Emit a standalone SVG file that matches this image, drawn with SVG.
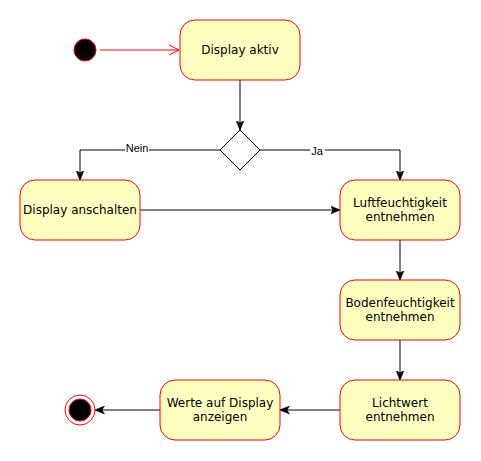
<svg xmlns="http://www.w3.org/2000/svg" width="481" height="461" viewBox="0 0 481 461">
<style>
.n{fill:#ffffc0;stroke:#ff0000;stroke-width:1}
.t{font-family:"DejaVu Sans",Verdana,sans-serif;font-size:12px;fill:#000;text-anchor:middle}
.l{font-family:"Liberation Sans",Arial,sans-serif;font-size:11px;fill:#000;text-anchor:middle}
.c{fill:none;stroke:#000;stroke-width:1}
</style>
<defs>
<marker id="a" viewBox="0 0 10 10" refX="9" refY="5" markerWidth="10" markerHeight="10" markerUnits="userSpaceOnUse" orient="auto">
<path d="M0,1 L10,5 L0,9 L2.5,5 Z" fill="#000" stroke="#000" stroke-width="0.5"/>
</marker>
<marker id="o" viewBox="0 0 12 12" refX="11" refY="6" markerWidth="12" markerHeight="12" markerUnits="userSpaceOnUse" orient="auto">
<path d="M1,1 L11,6 L1,11" fill="none" stroke="#ff0000" stroke-width="1"/>
</marker>
</defs>
<rect width="481" height="461" fill="#fff"/>
<g id="connectors">
<path d="M100,50 H179" stroke="#ff0000" fill="none" marker-end="url(#o)"/>
<path class="c" d="M240,80 V129.5" marker-end="url(#a)"/>
<path class="c" d="M220,150 H80 V179.5" marker-end="url(#a)"/>
<path class="c" d="M260,150 H400 V179.5" marker-end="url(#a)"/>
<path class="c" d="M140,210 H339.5" marker-end="url(#a)"/>
<path class="c" d="M400,240 V279.5" marker-end="url(#a)"/>
<path class="c" d="M400,340 V379.5" marker-end="url(#a)"/>
<path class="c" d="M340,410 H280.5" marker-end="url(#a)"/>
<path class="c" d="M160,410 H95.5" marker-end="url(#a)"/>
<rect x="125" y="143" width="24" height="11" fill="#fff"/>
<text class="l" x="137" y="152">Nein</text>
<rect x="310" y="145" width="15" height="11" fill="#fff"/>
<text class="l" x="317" y="155">Ja</text>
</g>
<g id="start"><circle cx="85" cy="50" r="11" fill="#000" stroke="#ff0000"/></g>
<g id="display-aktiv"><rect class="n" x="180" y="20" width="120" height="60" rx="15"/><text class="t" x="240" y="54">Display aktiv</text></g>
<g id="decision"><path d="M240,130 L260,150 L240,170 L220,150 Z" fill="#fff" stroke="#000"/></g>
<g id="display-anschalten"><rect class="n" x="20" y="180" width="120" height="60" rx="15"/><text class="t" x="80" y="214">Display anschalten</text></g>
<g id="luftfeuchtigkeit"><rect class="n" x="340" y="180" width="120" height="60" rx="15"/><text class="t" x="400" y="207">Luftfeuchtigkeit</text><text class="t" x="400" y="221">entnehmen</text></g>
<g id="bodenfeuchtigkeit"><rect class="n" x="340" y="280" width="120" height="60" rx="15"/><text class="t" x="400" y="307">Bodenfeuchtigkeit</text><text class="t" x="400" y="321">entnehmen</text></g>
<g id="lichtwert"><rect class="n" x="340" y="380" width="120" height="60" rx="15"/><text class="t" x="400" y="407">Lichtwert</text><text class="t" x="400" y="421">entnehmen</text></g>
<g id="werte"><rect class="n" x="160" y="380" width="120" height="60" rx="15"/><text class="t" x="220" y="407">Werte auf Display</text><text class="t" x="220" y="421">anzeigen</text></g>
<g id="end"><circle cx="80" cy="410" r="15" fill="#fff" stroke="#ff0000"/><circle cx="80" cy="410" r="11" fill="#000" stroke="#ff0000"/></g>
</svg>
